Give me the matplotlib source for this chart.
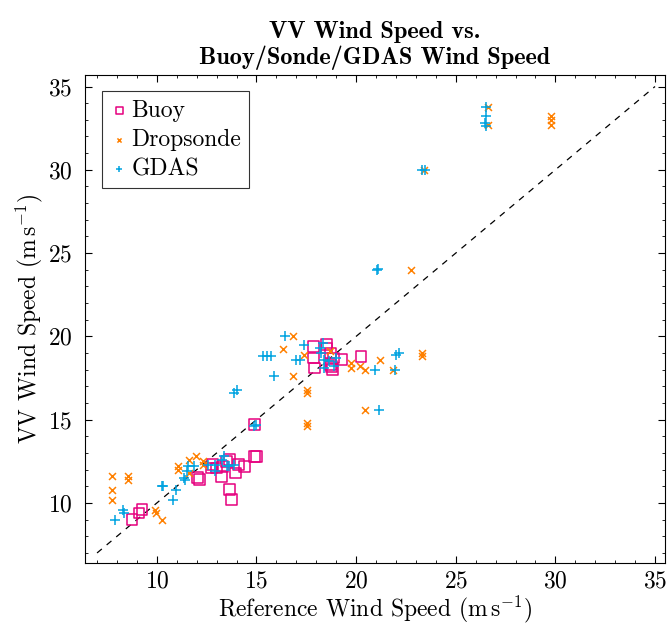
import matplotlib
matplotlib.use("Agg")
import matplotlib.pyplot as plt
from matplotlib.ticker import MultipleLocator

plt.rcParams['font.family'] = ['cmr10', 'DejaVu Serif']
plt.rcParams['mathtext.fontset'] = 'cm'
plt.rcParams['axes.unicode_minus'] = False
plt.rcParams['axes.formatter.use_mathtext'] = True

buoy_x = [8.75, 9.1, 9.25, 12.05, 12.15, 13.25, 13.65, 13.75, 13.95, 14.4, 14.9, 15.0, 14.9,
          12.8, 13.0, 13.5, 13.65, 14.1, 12.75, 13.3,
          17.85, 18.5, 17.85, 18.7, 19.25, 20.25, 18.75, 18.8, 17.9, 18.85, 18.5, 18.7]
buoy_y = [9.0, 9.4, 9.6, 11.55, 11.4, 11.6, 10.8, 10.2, 11.8, 12.2, 12.8, 12.8, 14.7,
          12.3, 12.1, 12.5, 12.6, 12.3, 12.1, 12.2,
          19.4, 19.5, 18.7, 19.0, 18.6, 18.8, 18.2, 18.0, 18.1, 18.7, 19.3, 18.3]

sonde_x = [7.75, 7.75, 7.75, 8.55, 8.55, 9.9, 9.95, 10.25, 11.05, 11.05, 11.6, 11.95, 11.6, 12.3, 12.3,
           16.85, 16.35, 16.85, 17.55, 17.55, 17.55, 17.55, 17.4, 18.7, 19.75, 19.75, 20.2, 20.45,
           21.2, 21.85, 23.3, 23.3, 20.45, 22.75, 23.4, 26.6, 26.6, 29.8, 29.8, 29.8]
sonde_y = [11.6, 10.8, 10.2, 11.6, 11.4, 9.6, 9.4, 9.0, 12.2, 12.0, 12.6, 12.8, 11.8, 12.5, 12.3,
           20.0, 19.25, 17.6, 16.8, 16.6, 14.8, 14.6, 18.9, 19.1, 18.4, 18.1, 18.25, 18.0,
           18.6, 18.0, 19.0, 18.8, 15.6, 24.0, 30.0, 33.8, 32.7, 33.25, 33.0, 32.7]

gdas_x = [7.9, 8.3, 8.35, 10.25, 10.3, 10.95, 10.8, 11.35, 11.4, 11.55, 11.85, 11.5, 12.55, 12.9,
          13.25, 13.35, 13.5, 13.85, 12.9, 13.6, 14.9, 15.0,
          13.85, 14.0, 16.45, 17.4, 15.35, 15.55, 15.75, 17.0, 17.2, 15.9, 18.2, 18.25, 18.4, 18.65,
          18.4, 18.9, 19.0, 18.35, 20.95, 22.0, 22.15, 21.95, 21.15, 21.05, 21.1, 23.3, 23.45,
          26.5, 26.5, 26.45, 26.5]
gdas_y = [9.0, 9.6, 9.4, 11.0, 11.0, 10.8, 10.2, 11.5, 11.4, 12.2, 12.2, 11.9, 12.3, 11.9,
          12.6, 12.8, 12.2, 12.3, 12.3, 12.2, 14.6, 14.7,
          16.6, 16.8, 20.0, 19.5, 18.85, 18.85, 18.85, 18.6, 18.6, 17.6, 19.3, 19.0, 18.6, 18.5,
          18.1, 18.2, 18.7, 19.6, 18.0, 18.9, 19.0, 18.0, 15.6, 24.0, 24.05, 30.0, 30.0,
          33.8, 33.2, 32.8, 32.6]

ref_line = [7, 35]

c_buoy = '#E6007E'
c_sonde = '#FF8000'
c_gdas = '#00A3E0'

fs = 17

fig = plt.figure(figsize=(6.7, 6.29), dpi=100)
ax = fig.add_axes([0.127, 0.105, 0.8655, 0.776])

ax.plot(ref_line, ref_line, color='black', linestyle=(0, (5, 5)), linewidth=0.9, zorder=1)
ax.scatter(buoy_x, buoy_y, marker='s', s=60, facecolors='none', edgecolors=c_buoy,
           linewidths=1.1, label='Buoy', zorder=3)
ax.scatter(sonde_x, sonde_y, marker='x', s=25, color=c_sonde, linewidths=1.1,
           label='Dropsonde', zorder=3)
ax.scatter(gdas_x, gdas_y, marker='+', s=60, color=c_gdas, linewidths=1.1,
           label='GDAS', zorder=3)

ax.set_xlim(6.4, 35.5)
ax.set_ylim(6.4, 35.7)
ax.xaxis.set_major_locator(MultipleLocator(5))
ax.yaxis.set_major_locator(MultipleLocator(5))
ax.xaxis.set_minor_locator(MultipleLocator(1))
ax.yaxis.set_minor_locator(MultipleLocator(1))
ax.tick_params(which='major', direction='in', top=True, right=True, labelsize=fs, length=5, width=0.8)
ax.tick_params(which='minor', direction='in', top=True, right=True, length=2.5, width=0.6)
ax.tick_params(axis='y', which='major', pad=9)
ax.tick_params(axis='x', which='major', pad=5)
for s in ax.spines.values():
    s.set_linewidth(0.8)

ax.set_xlabel(r'Reference Wind Speed (m$\,$s$^{-1}$)', fontsize=fs, labelpad=1)
ax.set_ylabel(r'VV Wind Speed (m$\,$s$^{-1}$)', fontsize=fs, labelpad=2)
ax.set_title('VV Wind Speed vs.\nBuoy/Sonde/GDAS Wind Speed', fontsize=17.5,
             family=['cmb10', 'DejaVu Serif'], fontweight='bold', pad=8, linespacing=1.1)

leg = ax.legend(loc='upper left', fontsize=fs, frameon=True, fancybox=False,
                edgecolor='black', handletextpad=0.1, handlelength=0.8,
                borderpad=0.35, labelspacing=0.3, borderaxespad=0.7, markerscale=0.6)
leg.get_frame().set_linewidth(0.8)

fig.savefig('out.png', dpi=100)
